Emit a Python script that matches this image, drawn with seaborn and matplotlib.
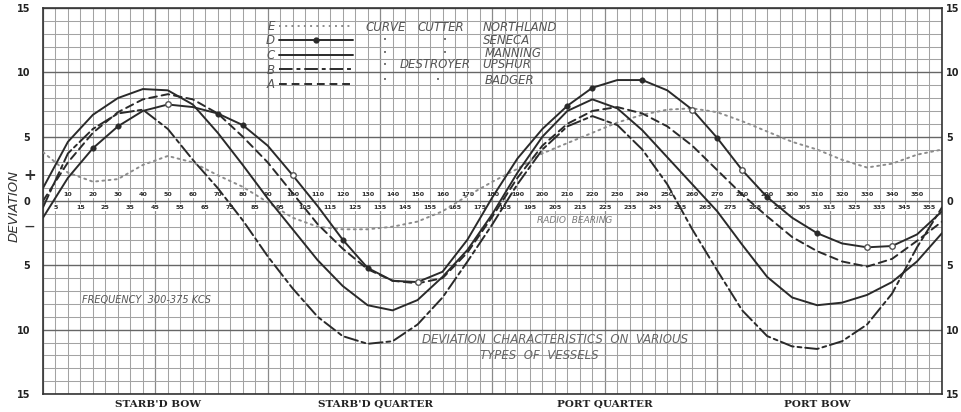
import numpy as np
import pandas as pd
import matplotlib
matplotlib.use("Agg")
import matplotlib.pyplot as plt
import seaborn as sns
from matplotlib.lines import Line2D

sns.set_theme(style="white")
plt.rcParams['font.family'] = ['DejaVu Sans']

bearing = [0, 10, 20, 30, 40, 50, 60, 70, 80, 90, 100, 110, 120, 130, 140, 150, 160, 170, 180,
           190, 200, 210, 220, 230, 240, 250, 260, 270, 280, 290, 300, 310, 320, 330, 340, 350, 360]

# E - Cutter Northland
northland = [3.8, 2.2, 1.5, 1.7, 2.8, 3.5, 3.0, 2.0, 1.1, -0.1, -1.3, -2.0, -2.2, -2.2, -2.0, -1.6, -0.8, 0.4, 1.5,
             2.5, 3.7, 4.5, 5.3, 6.1, 6.7, 7.1, 7.2, 6.9, 6.2, 5.4, 4.6, 4.0, 3.2, 2.6, 2.9, 3.6, 4.0]
# D - Cutter Seneca
seneca = [-1.3, 1.8, 4.1, 5.8, 7.0, 7.5, 7.3, 6.8, 5.9, 4.3, 2.0, -0.4, -3.0, -5.2, -6.2, -6.3, -5.5, -3.0, 0.3,
          3.3, 5.6, 7.4, 8.8, 9.4, 9.4, 8.6, 7.1, 4.9, 2.4, 0.3, -1.3, -2.5, -3.3, -3.6, -3.5, -2.6, -0.8]
# C - Cutter Manning
manning = [1.0, 4.6, 6.7, 8.0, 8.7, 8.6, 7.5, 5.3, 2.8, 0.2, -2.2, -4.6, -6.6, -8.1, -8.5, -7.7, -5.9, -3.8, -1.0,
           2.2, 5.0, 7.0, 7.9, 7.2, 5.5, 3.4, 1.3, -0.8, -3.4, -5.9, -7.5, -8.1, -7.9, -7.3, -6.3, -4.7, -2.5]
# B - Destroyer Upshur
upshur = [-0.5, 3.7, 5.6, 6.8, 7.1, 5.6, 3.2, 1.0, -1.5, -4.3, -6.8, -9.0, -10.5, -11.1, -10.9, -9.6, -7.5, -4.7, -1.8,
          1.3, 4.0, 5.8, 6.6, 5.9, 4.0, 1.3, -2.2, -5.4, -8.5, -10.5, -11.3, -11.5, -10.9, -9.6, -7.2, -3.6, -0.5]
# A - Destroyer Badger
badger = [0.0, 3.0, 5.3, 6.9, 7.9, 8.3, 7.9, 6.8, 5.0, 3.0, 0.6, -1.8, -3.7, -5.3, -6.2, -6.4, -6.0, -4.0, -1.2,
          1.8, 4.3, 6.0, 7.0, 7.3, 6.8, 5.8, 4.3, 2.4, 0.5, -1.2, -2.8, -3.9, -4.7, -5.1, -4.5, -3.1, -1.6]

# bearings where Seneca carries filled / open dots
seneca_dots = [20, 30, 70, 80, 120, 130, 210, 220, 240, 270, 290, 310]
seneca_rings = [50, 100, 150, 260, 280, 330, 340]

curve_keys = ['E', 'D', 'C', 'B', 'A']
curve_data = [northland, seneca, manning, upshur, badger]
palette = {'E': '#8c8c8c', 'D': '#2a2a2a', 'C': '#2a2a2a', 'B': '#2a2a2a', 'A': '#2a2a2a'}
dash_map = {'E': (1, 2.2), 'D': '', 'C': '', 'B': (7, 2, 2, 2), 'A': (4, 2.5)}

df = pd.concat([pd.DataFrame({'bearing': bearing, 'deviation': vals, 'curve': key})
                for key, vals in zip(curve_keys, curve_data)], ignore_index=True)

top_row = list(range(10, 360, 10))
bottom_row = list(range(5, 360, 10))
y_ticks = [15, 10, 5, 0, -5, -10, -15]
y_ticklabels = ['15', '10', '5', '0', '5', '10', '15']
quadrants = ["STARB'D BOW", "STARB'D QUARTER", "PORT QUARTER", "PORT BOW"]
quadrant_pos = [46, 133, 225, 310]

fig = plt.figure(figsize=(9.61, 4.12), dpi=100)
ax = fig.add_axes([0.0447, 0.0437, 0.9355, 0.9369])
ax.set_facecolor('white')

# graph-paper grid
ax.set_xlim(0, 360)
ax.set_ylim(-15, 15)
ax.set_xticks(np.arange(0, 361, 45))
ax.set_xticks(np.arange(0, 361, 5), minor=True)
ax.set_yticks(y_ticks)
ax.set_yticks(np.arange(-15, 16, 1), minor=True)
ax.grid(which='minor', color='#a3a3a3', lw=0.75)
ax.grid(which='major', axis='x', color='#8a8a8a', lw=0.9)
ax.grid(which='major', axis='y', color='#666666', lw=1.0)
ax.set_axisbelow(True)
ax.set_xticklabels([])
ax.set_yticklabels(y_ticklabels, fontsize=7, fontweight='bold', color='#222222')
ax.tick_params(axis='x', which='both', length=0)
ax.tick_params(axis='y', which='both', length=0, pad=9)
for sp in ax.spines.values():
    sp.set_color('#333333')
    sp.set_linewidth(1.2)

# same scale repeated on the right edge
ax_r = ax.twinx()
ax_r.set_ylim(-15, 15)
ax_r.set_yticks(y_ticks)
ax_r.set_yticklabels(y_ticklabels, fontsize=7, fontweight='bold', color='#222222')
ax_r.tick_params(axis='y', length=0, pad=3)
ax_r.grid(False)
for sp in ax_r.spines.values():
    sp.set_visible(False)

# bearing numbers in the band along the zero line
for b in top_row:
    ax.text(b, 0.5, str(b), ha='center', va='center', fontsize=4.6, fontweight='bold', color='#2a2a2a',
            bbox=dict(facecolor='white', edgecolor='none', pad=0.8), zorder=3)
for b in bottom_row:
    ax.text(b, -0.5, str(b), ha='center', va='center', fontsize=4.6, fontweight='bold', color='#2a2a2a',
            bbox=dict(facecolor='white', edgecolor='none', pad=0.8), zorder=3)

# the curves
sns.lineplot(data=df, x='bearing', y='deviation', hue='curve', style='curve', palette=palette,
             dashes=dash_map, lw=1.4, legend=False, ax=ax, zorder=4)
for line in ax.get_lines():
    line.set_dash_capstyle('round')

dot_df = pd.DataFrame({'bearing': bearing, 'deviation': seneca})
filled = dot_df[dot_df['bearing'].isin(seneca_dots)]
rings = dot_df[dot_df['bearing'].isin(seneca_rings)]
sns.scatterplot(data=filled, x='bearing', y='deviation', s=16, color='#2a2a2a', edgecolor='#2a2a2a',
                ax=ax, zorder=5)
sns.scatterplot(data=rings, x='bearing', y='deviation', s=16, color='white', edgecolor='#555555',
                linewidth=1.0, ax=ax, zorder=5)
ax.set_xlabel('')
ax.set_ylabel('')

# key
handles = []
for key in curve_keys:
    d = dash_map[key]
    h = Line2D([], [], color=palette[key], lw=1.4, dashes=d if d else (None, None))
    if key == 'D':
        h = Line2D([], [], color=palette[key], lw=1.4, marker='o', markersize=3.5)
    handles.append(h)
leg = ax.legend(handles, curve_keys, loc='upper left', bbox_to_anchor=(0.248, 0.969), frameon=False,
                markerfirst=False, handlelength=6.3, handletextpad=0.35, labelspacing=0.13,
                borderpad=0, borderaxespad=0, numpoints=1, prop={'size': 8.5, 'style': 'italic'})
for t in leg.get_texts():
    t.set_color('#555555')

hand = dict(fontsize=8.5, style='italic', color='#555555', va='center', ha='left')
ax.text(129, 13.5, 'CURVE', **hand)
ax.text(150, 13.5, 'CUTTER', **hand)
ax.text(176, 13.5, 'NORTHLAND', **hand)
ax.text(176, 12.5, 'SENECA', **hand)
ax.text(177, 11.5, 'MANNING', **hand)
ax.text(143, 10.6, 'DESTROYER', **hand)
ax.text(176, 10.6, 'UPSHUR', **hand)
ax.text(177, 9.4, 'BADGER', **hand)
for bx, by in [(137, 12.5), (161, 12.5), (137, 11.5), (161, 11.5), (137, 10.6), (137, 9.4), (158, 9.4)]:
    ax.text(bx, by, '•', fontsize=5, color='#555555', ha='center', va='center')

ax.text(198, -1.55, 'RADIO  BEARING', fontsize=6.5, style='italic', color='#7a7a7a', va='center', ha='left')
ax.text(15.6, -7.7, 'FREQUENCY  300-375 KCS', fontsize=7, style='italic', color='#555555', va='center', ha='left')
ax.text(151.8, -10.8, 'DEVIATION  CHARACTERISTICS  ON  VARIOUS', fontsize=8.5, style='italic', color='#666666',
        va='center', ha='left')
ax.text(175, -12.0, 'TYPES  OF  VESSELS', fontsize=8.5, style='italic', color='#666666', va='center', ha='left')

# quadrant names under the sheet
for name, pos in zip(quadrants, quadrant_pos):
    ax.text(pos, -0.028, name, transform=ax.get_xaxis_transform(), ha='center', va='center',
            fontsize=7.5, fontweight='bold', family='DejaVu Serif', color='#222222')

# axis title and sign marks on the left margin
fig.text(0.015, 0.50, 'DEVIATION', rotation=90, ha='center', va='center', fontsize=9.5, style='italic',
         color='#333333')
ax.text(-5.3, 2.0, '+', ha='center', va='center', fontsize=11, fontweight='bold', color='#333333', clip_on=False)
ax.text(-5.3, -2.0, '—', ha='center', va='center', fontsize=7, fontweight='bold', color='#333333', clip_on=False)

fig.savefig('out.png', dpi=100)
